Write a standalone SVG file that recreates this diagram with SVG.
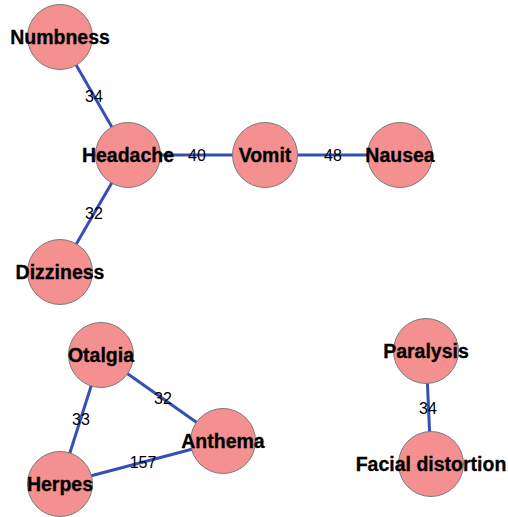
<svg xmlns="http://www.w3.org/2000/svg" width="508" height="517" viewBox="0 0 508 517">
<style>
.edge{stroke:#3550b4;stroke-width:3;fill:none}
.node circle{fill:#f4908f;stroke:#7a7a7a;stroke-width:1}
.node text{font-family:"Liberation Sans",Arial,sans-serif;font-weight:bold;font-size:19.5px;fill:#000;stroke:#000;stroke-width:0.3;text-anchor:middle;dominant-baseline:central}
.elabel{font-family:"Liberation Sans",Arial,sans-serif;font-size:16px;fill:#000;text-anchor:middle;dominant-baseline:central}
</style>
<rect width="508" height="517" fill="#fff"/>
<g id="connectors">
<line class="edge" x1="60" y1="37" x2="128" y2="155"/>
<line class="edge" x1="128" y1="155" x2="265" y2="155"/>
<line class="edge" x1="265" y1="155" x2="400" y2="155"/>
<line class="edge" x1="128" y1="155" x2="60" y2="272"/>
<line class="edge" x1="101" y1="355" x2="223" y2="441"/>
<line class="edge" x1="101" y1="355" x2="60" y2="484"/>
<line class="edge" x1="60" y1="484" x2="223" y2="441"/>
<line class="edge" x1="426" y1="351" x2="431" y2="464"/>
</g>
<g id="node-numbness" class="node"><circle cx="60" cy="37" r="32.5"/><text x="60" y="37">Numbness</text></g>
<g id="node-headache" class="node"><circle cx="128" cy="155" r="32.5"/><text x="128" y="155">Headache</text></g>
<g id="node-vomit" class="node"><circle cx="265" cy="155" r="32.5"/><text x="265" y="155">Vomit</text></g>
<g id="node-nausea" class="node"><circle cx="400" cy="155" r="32.5"/><text x="400" y="155">Nausea</text></g>
<g id="node-dizziness" class="node"><circle cx="60" cy="272" r="32.5"/><text x="60" y="272">Dizziness</text></g>
<g id="node-otalgia" class="node"><circle cx="101" cy="355" r="32.5"/><text x="101" y="355">Otalgia</text></g>
<g id="node-anthema" class="node"><circle cx="223" cy="441" r="32.5"/><text x="223" y="441">Anthema</text></g>
<g id="node-herpes" class="node"><circle cx="60" cy="484" r="32.5"/><text x="60" y="484">Herpes</text></g>
<g id="node-paralysis" class="node"><circle cx="426" cy="351" r="32.5"/><text x="426" y="351">Paralysis</text></g>
<g id="node-facial" class="node"><circle cx="431" cy="464" r="32.5"/><text x="431" y="464">Facial distortion</text></g>
<g id="edge-labels">
<text class="elabel" x="94" y="96">34</text>
<text class="elabel" x="197" y="155">40</text>
<text class="elabel" x="333" y="155">48</text>
<text class="elabel" x="94" y="213">32</text>
<text class="elabel" x="163" y="398">32</text>
<text class="elabel" x="81" y="419">33</text>
<text class="elabel" x="143" y="462">157</text>
<text class="elabel" x="428" y="408">34</text>
</g>
</svg>
